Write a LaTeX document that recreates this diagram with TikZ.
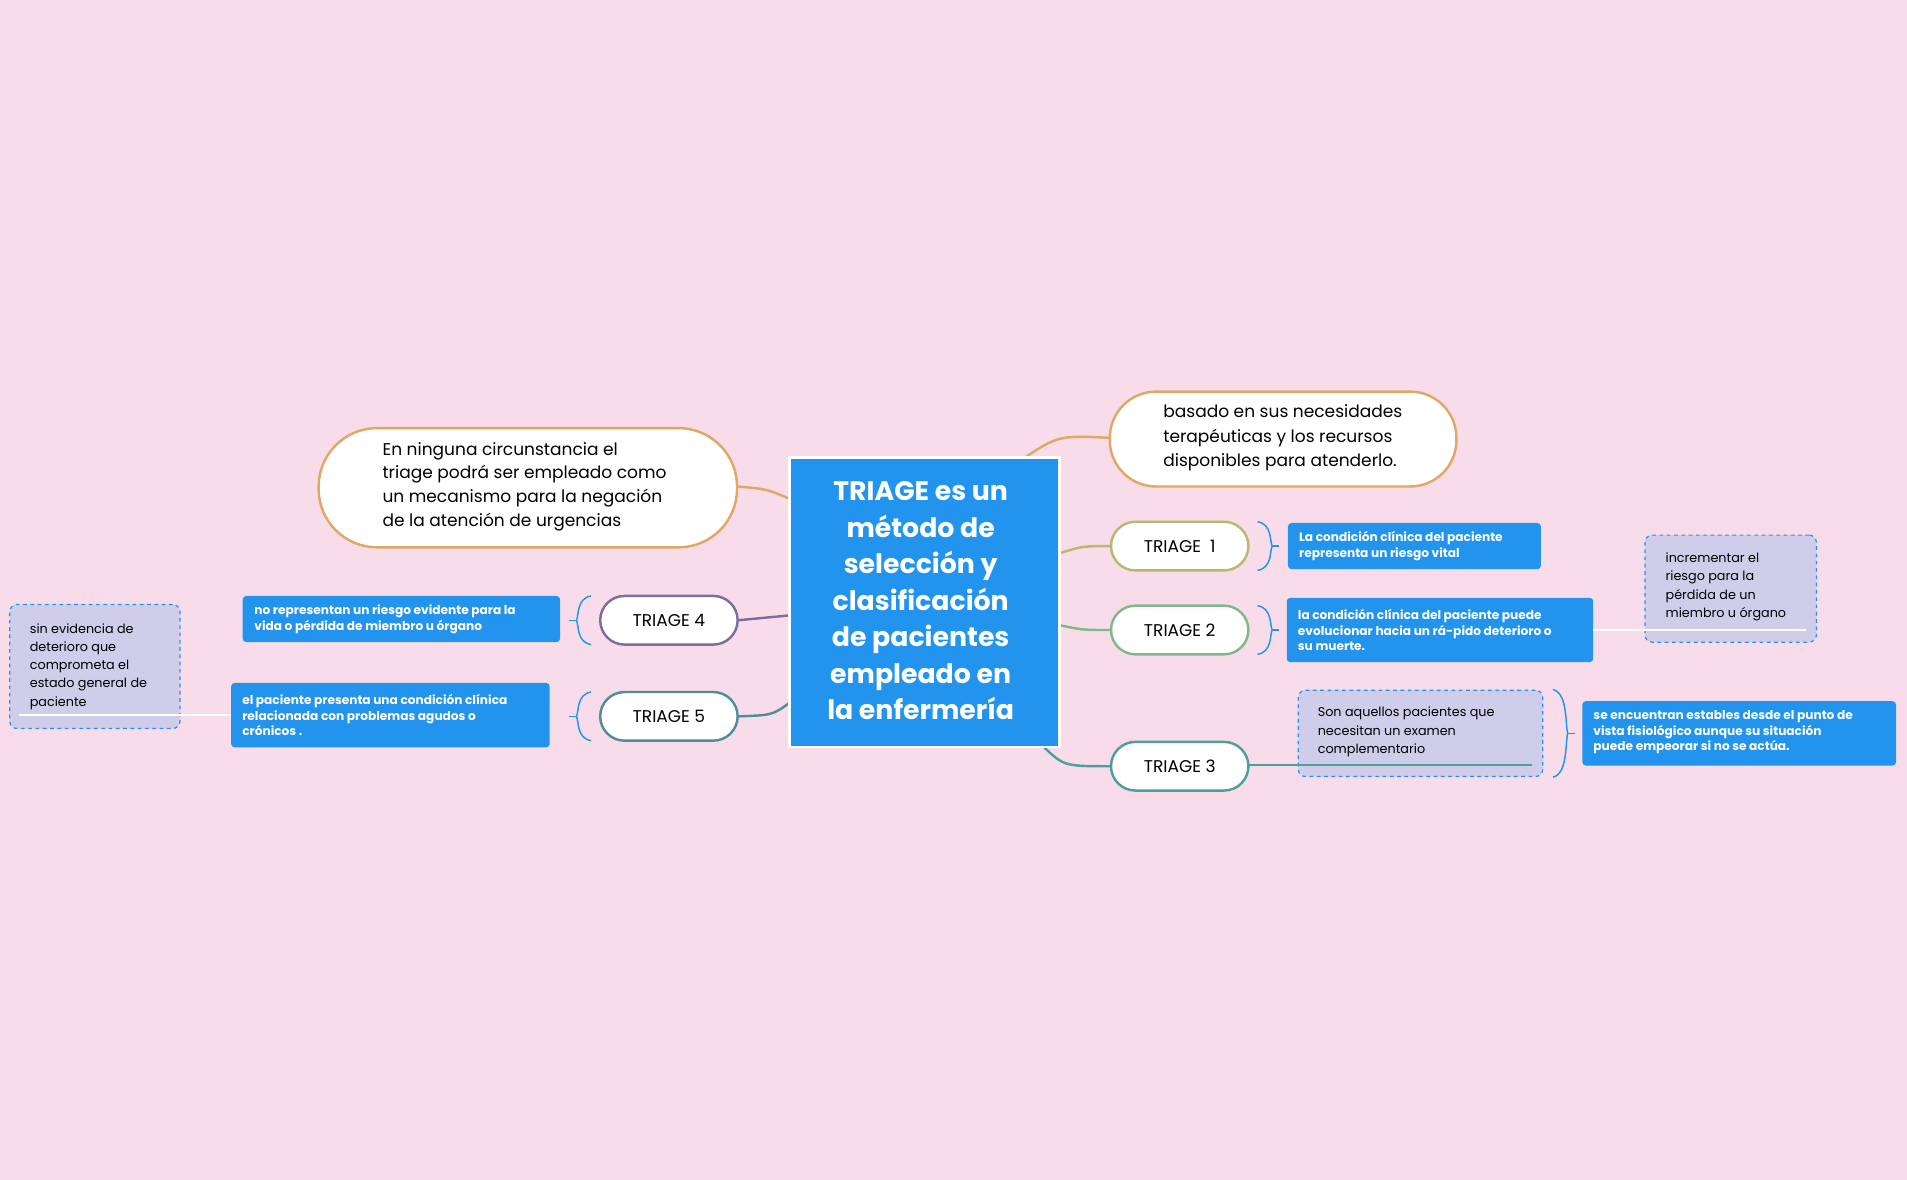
\documentclass[tikz,border=0pt]{standalone}
\usepackage{fontspec}
\setmainfont{Poppins}
\begin{document}
\begin{tikzpicture}[x=1pt,y=-1pt,
  pill/.style={draw,line width=2pt,fill=white,rounded corners=20pt,inner sep=0pt},
  blu/.style={fill=blueC,rounded corners=3pt,text=white,font=\fontsize{10}{13}\selectfont\bfseries,align=left,inner sep=0pt},
  lav/.style={draw=blueC,dashed,line width=1pt,fill=lavC,rounded corners=6pt,inner sep=0pt},
  conn/.style={line width=2pt},
  brk/.style={draw=blueC,line width=1.2pt}]
\definecolor{bg}{HTML}{F9DCE9}
\definecolor{blueC}{HTML}{2394EE}
\definecolor{lavC}{HTML}{CFCDE9}
\definecolor{orgC}{HTML}{E0A865}
\definecolor{olvC}{HTML}{B8B870}
\definecolor{grnC}{HTML}{80B88A}
\definecolor{tealC}{HTML}{4E9E9A}
\definecolor{purC}{HTML}{7A6E9E}
\definecolor{teal2}{HTML}{4E8E9C}
\fill[bg] (0,0) rectangle (1568,970);
\useasboundingbox (0,0) rectangle (1568,970);
% connectors
\draw[conn,orgC] (840,378) .. controls (870,358) .. (913,360);
\draw[conn,orgC] (606,400) .. controls (630,402) .. (649,410);
\draw[conn,olvC] (871,455) .. controls (890,449) .. (913,449);
\draw[conn,grnC] (871,514) .. controls (890,518) .. (913,518);
\draw[conn,tealC] (858,614) .. controls (875,630) .. (913,630);
\draw[conn,purC] (607,510) .. controls (628,508) .. (649,506);
\draw[conn,teal2] (607,589) .. controls (635,588) .. (649,578);
% center
\node[fill=blueC,draw=white,line width=2pt,minimum width=222pt,minimum height=238pt,inner sep=0pt] (c) at (760,495) {};
\node[text=white,font=\fontsize{22}{30}\selectfont\bfseries,align=center] at (757,494) {TRIAGE es un\\método de\\selección y\\clasificación\\de pacientes\\empleado en\\la enfermería};
% big pills
\node[pill,draw=orgC,minimum width=285pt,minimum height=78pt,rounded corners=38pt] (tr) at (1055,361) {};
\node[font=\fontsize{14}{20}\selectfont,align=left,anchor=west] at (953,360) {basado en sus necesidades\\terapéuticas y los recursos\\disponibles para atenderlo.};
\node[pill,draw=orgC,minimum width=344pt,minimum height=98pt,rounded corners=48pt] (tl) at (434,401) {};
\node[font=\fontsize{14}{19.5}\selectfont,align=left,anchor=west] at (311,400) {En ninguna circunstancia el\\triage podrá ser empleado como\\un mecanismo para la negación\\de la atención de urgencias};
% triage pills
\foreach \n/\x/\y/\c/\t in {t1/970/449/olvC/TRIAGE\ \ 1, t2/970/518/grnC/TRIAGE 2, t3/970/630/tealC/TRIAGE 3, t4/550/510/purC/TRIAGE 4, t5/550/589/teal2/TRIAGE 5}
  \node[pill,draw=\c,minimum width=113pt,minimum height=40pt,font=\fontsize{14}{16}\selectfont] (\n) at (\x,\y) {\t};
% blue boxes
\node[blu,minimum width=208pt,minimum height=38pt] (b1) at (1163,449) {};
\node[blu,anchor=west] at (1068,449) {La condición clínica del paciente\\representa un riesgo vital};
\node[blu,minimum width=252pt,minimum height=53pt] (b2) at (1184,518) {};
\node[blu,anchor=west] at (1067,518) {la condición clínica del paciente puede\\evolucionar hacia un rá-pido deterioro o\\su muerte.};
\node[blu,minimum width=258pt,minimum height=53pt] (b3) at (1430,603) {};
\node[blu,anchor=west] at (1310,602) {se encuentran estables desde el punto de\\vista fisiológico aunque su situación\\puede empeorar si no se actúa.};
\node[blu,minimum width=261pt,minimum height=38pt] (b4) at (330,509) {};
\node[blu,anchor=west] at (209,509) {no  representan un riesgo evidente para la\\vida o pérdida de miembro u órgano};
\node[blu,minimum width=262pt,minimum height=53pt] (b5) at (321,588) {};
\node[blu,anchor=west] at (199,588) {el paciente presenta una condición clínica\\relacionada con problemas agudos o\\crónicos .};
% lavender boxes
\node[lav,minimum width=141pt,minimum height=88pt] (l1) at (1423,484) {};
\node[font=\fontsize{10.5}{15}\selectfont,align=left,anchor=north west] at (1366,451) {incrementar el\\riesgo para la\\pérdida de un\\miembro u órgano};
\draw[white,line width=1.5pt] (1310,518) -- (1485,518);
\node[lav,minimum width=201pt,minimum height=71pt] (l2) at (1168,603) {};
\node[font=\fontsize{10.5}{15}\selectfont,align=left,anchor=north west] at (1080,578) {Son aquellos pacientes que\\necesitan un examen\\complementario};
\draw[tealC,line width=1.5pt] (1026,629) -- (1260,629);
\node[lav,minimum width=140pt,minimum height=102pt] (l3) at (78,548) {};
\node[font=\fontsize{10.5}{15}\selectfont,align=left,anchor=north west] at (21,509) {sin evidencia de\\deterioro que\\comprometa el\\estado general de\\paciente};
\draw[white,line width=1.5pt] (16,588) -- (190,588);
% brackets
\draw[brk] (1034,429) .. controls (1046,431) and (1044,445) .. (1046,449) .. controls (1044,453) and (1046,467) .. (1034,469);
\draw[brk] (1046,449) -- (1052,449);
\draw[brk] (1034,498) .. controls (1046,500) and (1044,514) .. (1046,518) .. controls (1044,522) and (1046,536) .. (1034,538);
\draw[brk] (1046,518) -- (1052,518);
\draw[brk] (1277,567) .. controls (1289,570) and (1287,595) .. (1289,603) .. controls (1287,611) and (1289,636) .. (1277,639);
\draw[brk] (1289,603) -- (1295,603);
\draw[brk] (486,490) .. controls (474,492) and (476,506) .. (474,510) .. controls (476,514) and (474,528) .. (486,530);
\draw[brk] (474,510) -- (468,510);
\draw[brk] (486,569) .. controls (474,571) and (476,585) .. (474,589) .. controls (476,593) and (474,607) .. (486,609);
\draw[brk] (474,589) -- (468,589);
\end{tikzpicture}
\end{document}
